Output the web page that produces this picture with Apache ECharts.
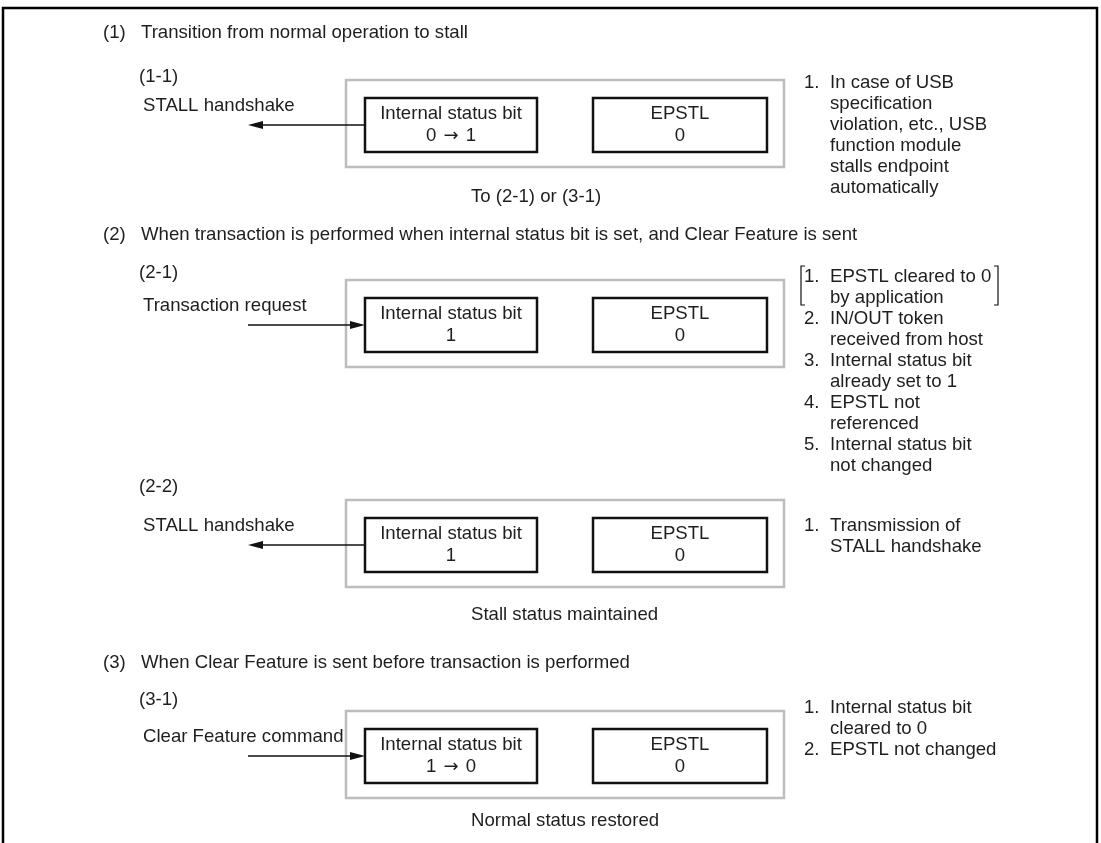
<!DOCTYPE html>
<html>
<head>
<meta charset="utf-8">
<script src="https://cdn.jsdelivr.net/npm/echarts@6/dist/echarts.min.js"></script>
<style>
  html, body { margin: 0; padding: 0; background: #fff; }
  #chart { width: 1101px; height: 843px; }
</style>
</head>
<body>
<div id="chart"></div>
<script>
// content of the diagram
const sectionNums = ['(1)', '(2)', '(3)']
const sectionTitles = [
  'Transition from normal operation to stall',
  'When transaction is performed when internal status bit is set, and Clear Feature is sent',
  'When Clear Feature is sent before transaction is performed'
]
const stepTags = ['(1-1)', '(2-1)', '(2-2)', '(3-1)']
const stepInputs = ['STALL handshake', 'Transaction request', 'STALL handshake', 'Clear Feature command']
const arrowDirs = ['out', 'in', 'out', 'in']
const statusBits = ['0 {a|\u2192} 1', '1', '1', '1 {a|\u2192} 0']
const epstlBits = ['0', '0', '0', '0']
const captions = ['To (2-1) or (3-1)', '', 'Stall status maintained', 'Normal status restored']
const stepNotes = [
  [['1.', ['In case of USB', 'specification', 'violation, etc., USB', 'function module', 'stalls endpoint', 'automatically']]],
  [
    ['1.', ['EPSTL cleared to 0', 'by application']],
    ['2.', ['IN/OUT token', 'received from host']],
    ['3.', ['Internal status bit', 'already set to 1']],
    ['4.', ['EPSTL not', 'referenced']],
    ['5.', ['Internal status bit', 'not changed']]
  ],
  [['1.', ['Transmission of', 'STALL handshake']]],
  [
    ['1.', ['Internal status bit', 'cleared to 0']],
    ['2.', ['EPSTL not changed']]
  ]
]
const bracketedNote = [1, 0] // step 2-1, note 1 sits in brackets

// layout (pixel units of the hidden axes)
const frame = { left: 3, top: 8, right: 1097, bottom: 843 }
const headNumX = 103
const headTextX = 141
const sectionY = [33, 235, 663]
const stepTop = [80, 280, 500, 711]
const tagY = [77, 273, 487, 700]
const captionY = [197, 0, 615, 821]
const noteTop = [83, 277, 526, 708]
const leftX = 141
const outer = { x0: 346, x1: 784, h: 87 }
const inner = { dy: 18, h: 54 }
const statusBox = { x0: 365, x1: 537 }
const epstlBox = { x0: 593, x1: 767 }
const arrowTailX = 248
const captionX = 471
const noteNumX = 804
const noteTextX = 830
const noteLineH = 21
const bracket = { left: 801, right: 998, top: 266, bottom: 305, tick: 4 }

const FONT = '18.6px "Liberation Sans", Arial, Helvetica, sans-serif'
const INK = '#1e1e1e'

function txt(api, x, y, s, align) {
  const p = api.coord([x, y])
  return {
    type: 'text',
    style: {
      text: s, x: p[0], y: p[1], font: FONT, fill: INK,
      align: align || 'left', textAlign: align || 'left',
      verticalAlign: 'middle', textVerticalAlign: 'middle',
      rich: { a: { fontFamily: 'DejaVu Sans', fontSize: 18, fill: INK, padding: [0, 2] } }
    }
  }
}

function rect(api, x0, y0, x1, y1, stroke, lw) {
  const a = api.coord([x0, y0])
  const b = api.coord([x1, y1])
  return {
    type: 'rect',
    shape: { x: a[0], y: a[1], width: b[0] - a[0], height: b[1] - a[1] },
    style: { fill: '#fff', stroke: stroke, lineWidth: lw }
  }
}

function renderStep(params, api) {
  const i = api.value(0)
  const top = stepTop[i]
  const iy0 = top + inner.dy
  const iy1 = iy0 + inner.h
  const cy = (iy0 + iy1) / 2
  const kids = []

  kids.push(rect(api, outer.x0, top, outer.x1, top + outer.h, '#bdbdbd', 2.5))
  kids.push(rect(api, statusBox.x0, iy0, statusBox.x1, iy1, '#111', 2.5))
  kids.push(rect(api, epstlBox.x0, iy0, epstlBox.x1, iy1, '#111', 2.5))
  const sc = (statusBox.x0 + statusBox.x1) / 2
  const ec = (epstlBox.x0 + epstlBox.x1) / 2
  kids.push(txt(api, sc, cy - 11, 'Internal status bit', 'center'))
  kids.push(txt(api, sc, cy + 11, statusBits[i], 'center'))
  kids.push(txt(api, ec, cy - 11, 'EPSTL', 'center'))
  kids.push(txt(api, ec, cy + 11, epstlBits[i], 'center'))

  // arrow
  const tipX = arrowDirs[i] === 'out' ? arrowTailX : statusBox.x0
  const tailX = arrowDirs[i] === 'out' ? statusBox.x0 : arrowTailX
  const dir = arrowDirs[i] === 'out' ? 1 : -1
  const t = api.coord([tipX, cy])
  const s = api.coord([tailX, cy])
  kids.push({
    type: 'line',
    shape: { x1: s[0], y1: s[1], x2: t[0] + dir * 10, y2: t[1] },
    style: { stroke: '#111', lineWidth: 1.5 }
  })
  kids.push({
    type: 'polygon',
    shape: { points: [[t[0], t[1]], [t[0] + dir * 15, t[1] - 4], [t[0] + dir * 15, t[1] + 4]] },
    style: { fill: '#111' }
  })

  kids.push(txt(api, leftX - 2, tagY[i], stepTags[i]))
  kids.push(txt(api, leftX + 2, cy - 19, stepInputs[i]))
  if (captions[i]) kids.push(txt(api, captionX, captionY[i], captions[i]))

  // notes
  let line = 0
  stepNotes[i].forEach(function (note, k) {
    const y0 = noteTop[i] + line * noteLineH
    kids.push(txt(api, noteNumX, y0, note[0]))
    note[1].forEach(function (l, j) {
      kids.push(txt(api, noteTextX, y0 + j * noteLineH, l))
    })
    if (bracketedNote[0] === i && bracketedNote[1] === k) {
      const b = bracket
      const L = api.coord([b.left, b.top])
      const LB = api.coord([b.left, b.bottom])
      const R = api.coord([b.right, b.top])
      const RB = api.coord([b.right, b.bottom])
      kids.push({
        type: 'polyline',
        shape: { points: [[L[0] + b.tick, L[1]], L, LB, [LB[0] + b.tick, LB[1]]] },
        style: { stroke: '#111', lineWidth: 1.2, fill: null }
      })
      kids.push({
        type: 'polyline',
        shape: { points: [[R[0] - b.tick, R[1]], R, RB, [RB[0] - b.tick, RB[1]]] },
        style: { stroke: '#111', lineWidth: 1.2, fill: null }
      })
    }
    line += note[1].length
  })

  return { type: 'group', children: kids }
}

function renderSection(params, api) {
  const i = api.value(0)
  const kids = [
    txt(api, headNumX, sectionY[i], sectionNums[i]),
    txt(api, headTextX, sectionY[i], sectionTitles[i])
  ]
  if (i === 0) {
    const p = [
      api.coord([frame.left, frame.bottom]),
      api.coord([frame.left, frame.top]),
      api.coord([frame.right, frame.top]),
      api.coord([frame.right, frame.bottom])
    ]
    kids.push({
      type: 'polyline',
      shape: { points: p },
      style: { stroke: '#000', lineWidth: 2.5, fill: null }
    })
  }
  return { type: 'group', children: kids }
}

const chart = echarts.init(document.getElementById('chart'), null, { renderer: 'canvas' })
chart.setOption({
  animation: false,
  backgroundColor: '#fff',
  grid: { left: 0, right: 0, top: 0, bottom: 0 },
  xAxis: { type: 'value', min: 0, max: 1101, show: false },
  yAxis: { type: 'value', min: 0, max: 843, inverse: true, show: false },
  series: [
    {
      type: 'custom',
      renderItem: renderSection,
      data: sectionNums.map(function (n, i) { return [i] }),
      silent: true
    },
    {
      type: 'custom',
      renderItem: renderStep,
      data: stepTags.map(function (n, i) { return [i] }),
      silent: true
    }
  ]
})
</script>
</body>
</html>
